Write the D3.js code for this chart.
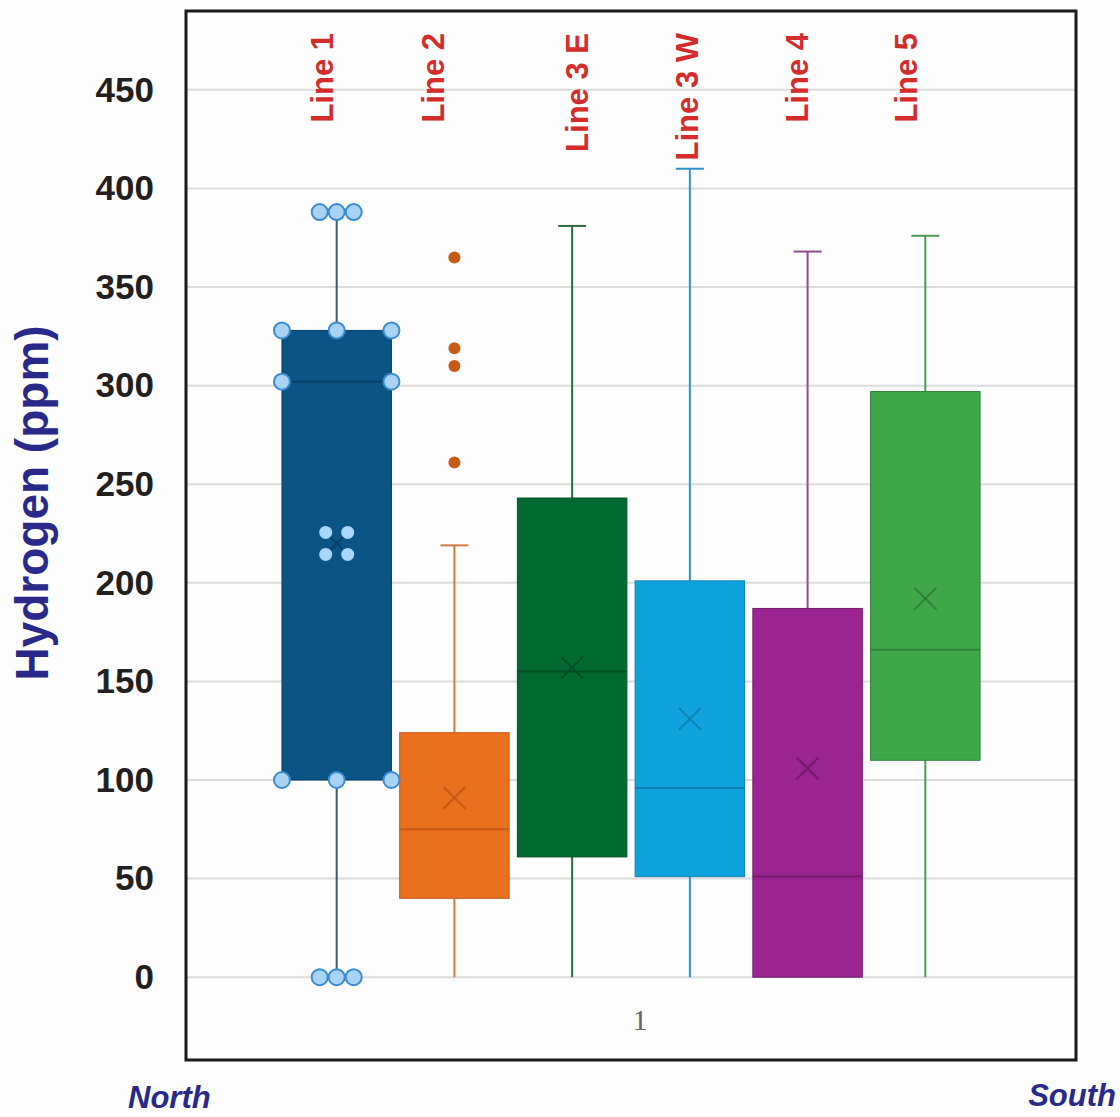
<!DOCTYPE html>
<html>
<head>
<meta charset="utf-8">
<script src="https://cdn.jsdelivr.net/npm/d3@7"></script>
<style>
  body { margin: 0; background: #fdfdfd; }
  svg { display: block; font-family: "Liberation Sans", Arial, sans-serif; }
</style>
</head>
<body>
<svg id="chart"></svg>
<script>
// box plot values (ppm), one entry per line
const SERIES = ["Line 1", "Line 2", "Line 3 E", "Line 3 W", "Line 4", "Line 5"];
const CATEGORY = ["1"];
const WHISKER_LOW = [0, 0, 0, 0, 0, 0];
const Q1 = [100, 40, 61, 51, 0, 110];
const MEDIAN = [302, 75, 155, 96, 51, 166];
const Q3 = [328, 124, 243, 201, 187, 297];
const WHISKER_HIGH = [388, 219, 381, 410, 368, 376];
const MEAN = [220, 91, 157, 131, 106, 192];
const OUTLIERS = [[], [365, 319, 310, 261], [], [], [], []];
const Y_TICKS = [0, 50, 100, 150, 200, 250, 300, 350, 400, 450];

const FILLS = ["#0a5585", "#e8701f", "#006a32", "#0fa3de", "#9a2590", "#40a64a"];
const DARK = ["#083f66", "#c65a17", "#004d22", "#0b82b2", "#741b6c", "#2e8038"];
const WHISKER = ["#3d5c78", "#d27a40", "#2d6a3f", "#2c95c8", "#8f4b8f", "#4a9a52"];
const LABEL_NUDGE = [-15, -21, 5, -3, -11, -19];

const W = 1120, H = 1117;
const FRAME = { left: 186, top: 11, right: 1076, bottom: 1060 };

const svg = d3.select("#chart").attr("width", W).attr("height", H);

const y = d3.scaleLinear().domain([-42, 490]).range([FRAME.bottom, FRAME.top]);

const xCat = d3.scaleBand()
  .domain(CATEGORY)
  .range([FRAME.left, FRAME.right])
  .paddingOuter(0.13);

const x = d3.scaleBand()
  .domain(SERIES)
  .range([xCat("1"), xCat("1") + xCat.bandwidth()])
  .paddingInner(0.07)
  .paddingOuter(0.035);

// gridlines
svg.append("g")
  .selectAll("line")
  .data(Y_TICKS)
  .join("line")
  .attr("x1", FRAME.left)
  .attr("x2", FRAME.right)
  .attr("y1", (d) => y(d))
  .attr("y2", (d) => y(d))
  .attr("stroke", "#dcdcdc")
  .attr("stroke-width", 2);

// y axis labels
const yAxis = d3.axisLeft(y).tickValues(Y_TICKS).tickSize(0).tickPadding(32);
const yG = svg.append("g")
  .attr("transform", `translate(${FRAME.left},0)`)
  .call(yAxis);
yG.select(".domain").remove();
yG.selectAll("text")
  .attr("font-size", 35)
  .attr("font-weight", "bold")
  .attr("font-family", "Liberation Sans, Arial, sans-serif")
  .attr("fill", "#231f20");

svg.append("text")
  .attr("transform", `translate(48, 503) rotate(-90)`)
  .attr("text-anchor", "middle")
  .attr("font-size", 46)
  .attr("font-weight", "bold")
  .attr("fill", "#29298a")
  .text("Hydrogen (ppm)");

const boxes = svg.append("g");

SERIES.forEach((name, i) => {
  const cx = x(name) + x.bandwidth() / 2;
  const g = boxes.append("g");

  // whiskers
  g.append("line")
    .attr("x1", cx).attr("x2", cx)
    .attr("y1", y(Q3[i])).attr("y2", y(WHISKER_HIGH[i]))
    .attr("stroke", WHISKER[i]).attr("stroke-width", 2);
  g.append("line")
    .attr("x1", cx).attr("x2", cx)
    .attr("y1", y(Q1[i])).attr("y2", y(WHISKER_LOW[i]))
    .attr("stroke", WHISKER[i]).attr("stroke-width", 2);
  g.append("line")
    .attr("x1", cx - 14).attr("x2", cx + 14)
    .attr("y1", y(WHISKER_HIGH[i])).attr("y2", y(WHISKER_HIGH[i]))
    .attr("stroke", WHISKER[i]).attr("stroke-width", 2);

  // box
  g.append("rect")
    .attr("x", x(name))
    .attr("width", x.bandwidth())
    .attr("y", y(Q3[i]))
    .attr("height", y(Q1[i]) - y(Q3[i]))
    .attr("fill", FILLS[i])
    .attr("stroke", DARK[i])
    .attr("stroke-width", 1);

  g.append("line")
    .attr("x1", x(name)).attr("x2", x(name) + x.bandwidth())
    .attr("y1", y(MEDIAN[i])).attr("y2", y(MEDIAN[i]))
    .attr("stroke", DARK[i]).attr("stroke-width", 2);

  // mean marker
  const my = y(MEAN[i]);
  g.append("path")
    .attr("d", `M${cx - 11},${my - 11}L${cx + 11},${my + 11}M${cx - 11},${my + 11}L${cx + 11},${my - 11}`)
    .attr("stroke", DARK[i]).attr("stroke-width", 2).attr("fill", "none");

  // outliers
  g.selectAll("circle.outlier")
    .data(OUTLIERS[i])
    .join("circle")
    .attr("class", "outlier")
    .attr("cx", cx)
    .attr("cy", (d) => y(d))
    .attr("r", 6)
    .attr("fill", DARK[i]);

  // series label
  svg.append("text")
    .attr("transform", `translate(${cx + LABEL_NUDGE[i] + 11}, 33) rotate(-90)`)
    .attr("text-anchor", "end")
    .attr("font-size", 31)
    .attr("font-weight", "bold")
    .attr("fill", "#d42b2b")
    .text(name);
});

// selection handles on Line 1
const s0 = SERIES[0];
const hx = x(s0) + x.bandwidth() / 2;
const hl = x(s0), hr = x(s0) + x.bandwidth();
const handles = [
  [hx - 17, WHISKER_HIGH[0]], [hx, WHISKER_HIGH[0]], [hx + 17, WHISKER_HIGH[0]],
  [hl, Q3[0]], [hx, Q3[0]], [hr, Q3[0]],
  [hl, MEDIAN[0]], [hr, MEDIAN[0]],
  [hl, Q1[0]], [hx, Q1[0]], [hr, Q1[0]],
  [hx - 17, WHISKER_LOW[0]], [hx, WHISKER_LOW[0]], [hx + 17, WHISKER_LOW[0]],
];
svg.append("g")
  .selectAll("circle")
  .data(handles)
  .join("circle")
  .attr("cx", (d) => d[0])
  .attr("cy", (d) => y(d[1]))
  .attr("r", 8)
  .attr("fill", "#a8d3f5")
  .attr("stroke", "#3a8bd0")
  .attr("stroke-width", 2);

const meanDots = [[-11, -11], [11, -11], [-11, 11], [11, 11]];
svg.append("g")
  .selectAll("circle")
  .data(meanDots)
  .join("circle")
  .attr("cx", (d) => hx + d[0])
  .attr("cy", (d) => y(MEAN[0]) + d[1])
  .attr("r", 6.5)
  .attr("fill", "#a9d6fb");

// frame
svg.append("rect")
  .attr("x", FRAME.left)
  .attr("y", FRAME.top)
  .attr("width", FRAME.right - FRAME.left)
  .attr("height", FRAME.bottom - FRAME.top)
  .attr("fill", "none")
  .attr("stroke", "#1a1a1a")
  .attr("stroke-width", 3);

// category label
svg.append("text")
  .attr("x", xCat("1") + xCat.bandwidth() / 2)
  .attr("dx", 9)
  .attr("y", 1030)
  .attr("text-anchor", "middle")
  .attr("font-family", "Liberation Serif, Times New Roman, serif")
  .attr("font-size", 30)
  .attr("fill", "#666")
  .text(CATEGORY[0]);

svg.append("text")
  .attr("x", 128)
  .attr("y", 1108)
  .attr("font-size", 31)
  .attr("font-weight", "bold")
  .attr("font-style", "italic")
  .attr("fill", "#29298a")
  .text("North");

svg.append("text")
  .attr("x", 1116)
  .attr("y", 1106)
  .attr("text-anchor", "end")
  .attr("font-size", 31)
  .attr("font-weight", "bold")
  .attr("font-style", "italic")
  .attr("fill", "#29298a")
  .text("South");
</script>
</body>
</html>
